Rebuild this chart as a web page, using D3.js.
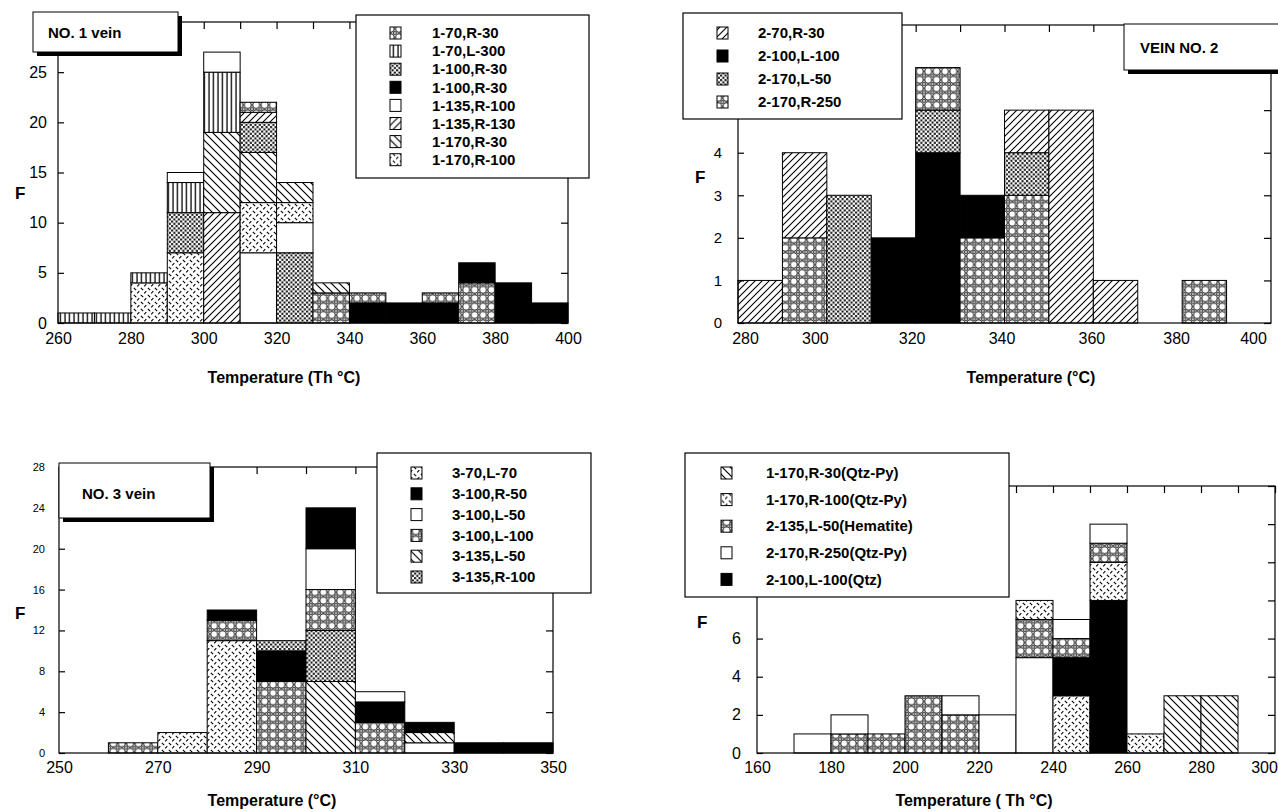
<!DOCTYPE html>
<html>
<head>
<meta charset="utf-8">
<script src="https://cdn.jsdelivr.net/npm/d3@7"></script>
<style>
  body { margin: 0; background: #fff; }
  svg text { font-family: "Liberation Sans", Arial, sans-serif; fill: #000; }
</style>
</head>
<body>
<svg id="fig" width="1278" height="812"></svg>
<script>
// ---------- data ----------
// each stack lists [series index, count] from the bottom of the bar up
const vein1Series = ["1-70,R-30", "1-70,L-300", "1-100,R-30", "1-100,R-30", "1-135,R-100", "1-135,R-130", "1-170,R-30", "1-170,R-100"];
const vein1Fills  = ["circ", "vert", "dots", "black", "white", "fwd", "back", "dash"];
const vein1Bins   = [260, 270, 280, 290, 300, 310, 320, 330, 340, 350, 360, 370, 380, 390];
const vein1Stacks = [
  [[1,1]], [[1,1]], [[7,4],[1,1]], [[7,7],[2,4],[1,3],[4,1]],
  [[5,11],[6,8],[1,6],[4,2]], [[4,7],[7,5],[6,5],[2,3],[5,1],[0,1]],
  [[2,7],[4,3],[7,2],[6,2]], [[0,3],[6,1]], [[3,2],[0,1]], [[3,2]],
  [[3,2],[0,1]], [[0,4],[3,2]], [[3,4]], [[3,2]]
];
const vein1XTicks = [260, 280, 300, 320, 340, 360, 380, 400];
const vein1YTicks = [0, 5, 10, 15, 20, 25];

const vein2Series = ["2-70,R-30", "2-100,L-100", "2-170,L-50", "2-170,R-250"];
const vein2Fills  = ["fwd", "black", "dots", "circ"];
const vein2Bins   = [280, 290, 300, 310, 320, 330, 340, 350, 360, 370, 380, 390];
const vein2Stacks = [
  [[0,1]], [[3,2],[0,2]], [[2,3]], [[1,2]], [[1,4],[2,1],[3,1]], [[3,2],[1,1]],
  [[3,3],[2,1],[0,1]], [[0,5]], [[0,1]], [], [[3,1]], []
];
const vein2XTicks = [280, 300, 320, 340, 360, 380, 400];
const vein2YTicks = [0, 1, 2, 3, 4];

const vein3Series = ["3-70,L-70", "3-100,R-50", "3-100,L-50", "3-100,L-100", "3-135,L-50", "3-135,R-100"];
const vein3Fills  = ["dash", "black", "white", "circ", "back", "dots"];
const vein3Bins   = [260, 270, 280, 290, 300, 310, 320, 330, 340];
const vein3Stacks = [
  [[3,1]], [[0,2]], [[0,11],[3,2],[1,1]], [[3,7],[1,3],[5,1]],
  [[4,7],[5,5],[3,4],[2,4],[1,4]], [[3,3],[1,2],[2,1]], [[2,1],[4,1],[1,1]],
  [[1,1]], [[1,1]]
];
const vein3XTicks = [250, 270, 290, 310, 330, 350];
const vein3YTicks = [0, 4, 8, 12, 16, 20, 24, 28];

const mixSeries = ["1-170,R-30(Qtz-Py)", "1-170,R-100(Qtz-Py)", "2-135,L-50(Hematite)", "2-170,R-250(Qtz-Py)", "2-100,L-100(Qtz)"];
const mixFills  = ["back", "dash", "circ", "white", "black"];
const mixBins   = [170, 180, 190, 200, 210, 220, 230, 240, 250, 260, 270, 280];
const mixStacks = [
  [[3,1]], [[2,1],[3,1]], [[2,1]], [[2,3]], [[2,2],[3,1]], [[3,2]],
  [[3,5],[2,2],[1,1]], [[1,3],[4,2],[2,1],[3,1]], [[4,8],[1,2],[2,1],[3,1]],
  [[1,1]], [[0,3]], [[0,3]]
];
const mixXTicks = [160, 180, 200, 220, 240, 260, 280, 300];
const mixYTicks = [0, 2, 4, 6];

// ---------- layout ----------
const panels = [
  { series: vein1Series, fills: vein1Fills, bins: vein1Bins, stacks: vein1Stacks,
    xTicks: vein1XTicks, yTicks: vein1YTicks, xDomain: [260, 400], yDomain: [0, 30], yStep: 5,
    left: 58, right: 568, top: 22, bottom: 323, yFont: 16, yPad: 11, xPad: 10, xLabelDx: null,
    legend: { x: 356, y: 15, w: 233, h: 163, symX: 390, textX: 432, row0: 33, rowStep: 18.1 },
    title: { text: "NO. 1 vein", x: 33, y: 12, w: 145, h: 40, tx: 48, ty: 33 },
    fX: 15, fY: 193, xTitle: "Temperature (Th °C)", xtX: 284, xtY: 383 },
  { series: vein2Series, fills: vein2Fills, bins: vein2Bins, stacks: vein2Stacks,
    xTicks: vein2XTicks, yTicks: vein2YTicks, xDomain: [280, 400], yDomain: [0, 7], yStep: 1,
    left: 738, right: 1271, top: 25, bottom: 323, yFont: 15, yPad: 16, xPad: 10,
    xLabelDx: [7, -12, -4, -3, -2, -6, -18],
    legend: { x: 683, y: 13, w: 219, h: 106, symX: 717, textX: 758, row0: 33, rowStep: 23 },
    title: { text: "VEIN NO. 2", x: 1124, y: 24, w: 160, h: 46, tx: 1140, ty: 48 },
    fX: 695, fY: 177, xTitle: "Temperature (°C)", xtX: 1031, xtY: 383 },
  { series: vein3Series, fills: vein3Fills, bins: vein3Bins, stacks: vein3Stacks,
    xTicks: vein3XTicks, yTicks: vein3YTicks, xDomain: [250, 350], yDomain: [0, 28], yStep: 4,
    left: 59, right: 553, top: 467, bottom: 753, yFont: 11, yPad: 14, xPad: 9, xLabelDx: null,
    legend: { x: 377, y: 453, w: 214, h: 140, symX: 411, textX: 452, row0: 473, rowStep: 20.8 },
    title: { text: "NO. 3 vein", x: 59, y: 463, w: 151, h: 55, tx: 82, ty: 494 },
    fX: 15, fY: 613, xTitle: "Temperature (°C)", xtX: 272, xtY: 806 },
  { series: mixSeries, fills: mixFills, bins: mixBins, stacks: mixStacks,
    xTicks: mixXTicks, yTicks: mixYTicks, xDomain: [160, 300], yDomain: [0, 14], yStep: 2,
    left: 757, right: 1275, top: 486, bottom: 753, yFont: 16, yPad: 16, xPad: 9,
    xLabelDx: [0, 0, 0, 0, 0, 0, 0, -11],
    legend: { x: 685, y: 453, w: 324, h: 144, symX: 721, textX: 766, row0: 473, rowStep: 26.6 },
    title: null,
    fX: 697, fY: 622, xTitle: "Temperature ( Th °C)", xtX: 974, xtY: 806 }
];

const svg = d3.select("#fig");
const defs = svg.append("defs");

// ---------- fill patterns ----------
function pattern(id, w, h, draw) {
  const p = defs.append("pattern").attr("id", id)
    .attr("patternUnits", "userSpaceOnUse").attr("width", w).attr("height", h);
  p.append("rect").attr("width", w).attr("height", h).attr("fill", "#fff");
  draw(p);
}
pattern("fwd", 7, 7, p => p.append("path")
  .attr("d", "M-1,8 L8,-1 M-1,1 L1,-1 M6,8 L8,6").attr("stroke", "#000").attr("stroke-width", 1.1));
pattern("back", 8, 8, p => p.append("path")
  .attr("d", "M-1,-1 L9,9 M-1,7 L1,9 M7,-1 L9,1").attr("stroke", "#000").attr("stroke-width", 1.2));
pattern("vert", 4.5, 4, p => p.append("line")
  .attr("x1", 2).attr("x2", 2).attr("y1", 0).attr("y2", 4).attr("stroke", "#000").attr("stroke-width", 1.3));
pattern("dash", 7, 7, p => p.append("path")
  .attr("d", "M0.8,0.8 L3.2,3.2 M4.2,6.3 L6.3,4.2").attr("stroke", "#000").attr("stroke-width", 1.1));
pattern("dots", 4.5, 4.5, p => {
  [[0.1,0.1],[2.35,2.35]].forEach(([sx, sy]) =>
    p.append("rect").attr("x", sx).attr("y", sy).attr("width", 2).attr("height", 2).attr("fill", "#000"));
});
pattern("circ", 8.4, 8.4, p => {
  p.append("circle").attr("cx", 4.2).attr("cy", 4.2).attr("r", 3.5)
    .attr("fill", "none").attr("stroke", "#000").attr("stroke-width", 1);
  [[0,0],[8.4,0],[0,8.4],[8.4,8.4]].forEach(([cx, cy]) =>
    p.append("circle").attr("cx", cx).attr("cy", cy).attr("r", 1.4)
      .attr("fill", "#fff").attr("stroke", "#000").attr("stroke-width", 0.8));
});

function fillOf(key) {
  if (key === "black") return "#000";
  if (key === "white") return "#fff";
  return `url(#${key})`;
}

// ---------- panels ----------
function drawPanel(p) {
  const x = d3.scaleLinear().domain(p.xDomain).range([p.left, p.right]);
  const y = d3.scaleLinear().domain(p.yDomain).range([p.bottom, p.top]);
  const g = svg.append("g");

  // stacked segments
  const segs = [];
  p.bins.forEach((b, i) => {
    let acc = 0;
    p.stacks[i].forEach(([s, n]) => {
      segs.push({ bin: b, s: s, y0: acc, y1: acc + n });
      acc += n;
    });
  });
  g.selectAll("rect.seg")
    .data(segs)
    .join("rect")
      .attr("class", "seg")
      .attr("x", d => x(d.bin))
      .attr("width", d => x(d.bin + 10) - x(d.bin))
      .attr("y", d => y(d.y1))
      .attr("height", d => y(d.y0) - y(d.y1))
      .attr("fill", d => fillOf(p.fills[d.s]))
      .attr("stroke", "#000")
      .attr("stroke-width", 1);

  // frame
  g.append("rect")
    .attr("x", p.left).attr("y", p.top)
    .attr("width", p.right - p.left).attr("height", p.bottom - p.top)
    .attr("fill", "none").attr("stroke", "#000").attr("stroke-width", 1.2);

  const minorX = d3.range(p.xDomain[0], p.xDomain[1] + 1, 10);
  const minorY = d3.range(p.yDomain[0], p.yDomain[1] + 0.01, p.yStep);

  // bottom labels
  const bottom = g.append("g")
    .attr("transform", `translate(0,${p.bottom})`)
    .call(d3.axisBottom(x).tickValues(p.xTicks).tickSize(0).tickPadding(p.xPad).tickFormat(d3.format("d")))
    .call(a => a.select(".domain").remove());
  bottom.selectAll("text").style("font-size", "16px")
    .attr("dx", (d, i) => p.xLabelDx ? p.xLabelDx[i] : 0);

  // top ticks (inward)
  g.append("g")
    .attr("transform", `translate(0,${p.top})`)
    .call(d3.axisBottom(x).tickValues(minorX).tickSize(7).tickFormat(""))
    .call(a => a.select(".domain").remove());

  // left labels + inward ticks
  g.append("g")
    .attr("transform", `translate(${p.left},0)`)
    .call(d3.axisLeft(y).tickValues(p.yTicks).tickSizeInner(-6).tickSizeOuter(0).tickPadding(p.yPad).tickFormat(d3.format("d")))
    .call(a => a.select(".domain").remove())
    .selectAll("text").style("font-size", p.yFont + "px");

  // right ticks (inward)
  g.append("g")
    .attr("transform", `translate(${p.right},0)`)
    .call(d3.axisLeft(y).tickValues(minorY).tickSize(7).tickFormat(""))
    .call(a => a.select(".domain").remove());

  g.selectAll(".tick line").attr("stroke", "#000").attr("stroke-width", 1.2);

  // axis titles
  g.append("text").attr("x", p.fX).attr("y", p.fY).attr("dy", "0.35em")
    .style("font-size", "17px").style("font-weight", "bold").text("F");
  g.append("text").attr("x", p.xtX).attr("y", p.xtY).attr("text-anchor", "middle")
    .style("font-size", "16px").style("font-weight", "bold").text(p.xTitle);

  // title box with drop shadow
  if (p.title) {
    const t = p.title;
    g.append("rect").attr("x", t.x + 4).attr("y", t.y + 4).attr("width", t.w).attr("height", t.h).attr("fill", "#000");
    g.append("rect").attr("x", t.x).attr("y", t.y).attr("width", t.w).attr("height", t.h)
      .attr("fill", "#fff").attr("stroke", "#000").attr("stroke-width", 1);
    g.append("text").attr("x", t.tx).attr("y", t.ty).attr("dy", "0.35em")
      .style("font-size", "15px").style("font-weight", "bold").text(t.text);
  }

  // legend
  const L = p.legend;
  g.append("rect").attr("x", L.x).attr("y", L.y).attr("width", L.w).attr("height", L.h)
    .attr("fill", "#fff").attr("stroke", "#000").attr("stroke-width", 1.2);
  const rows = g.selectAll("g.leg")
    .data(p.series)
    .join("g")
      .attr("class", "leg")
      .attr("transform", (d, i) => `translate(0,${L.row0 + i * L.rowStep})`);
  rows.append("rect")
    .attr("x", L.symX).attr("y", -6).attr("width", 11).attr("height", 12)
    .attr("fill", (d, i) => fillOf(p.fills[i]))
    .attr("stroke", "#000").attr("stroke-width", 1);
  rows.append("text")
    .attr("x", L.textX).attr("dy", "0.35em")
    .style("font-size", "15px").style("font-weight", "bold")
    .text(d => d);
}

panels.forEach(drawPanel);
</script>
</body>
</html>
